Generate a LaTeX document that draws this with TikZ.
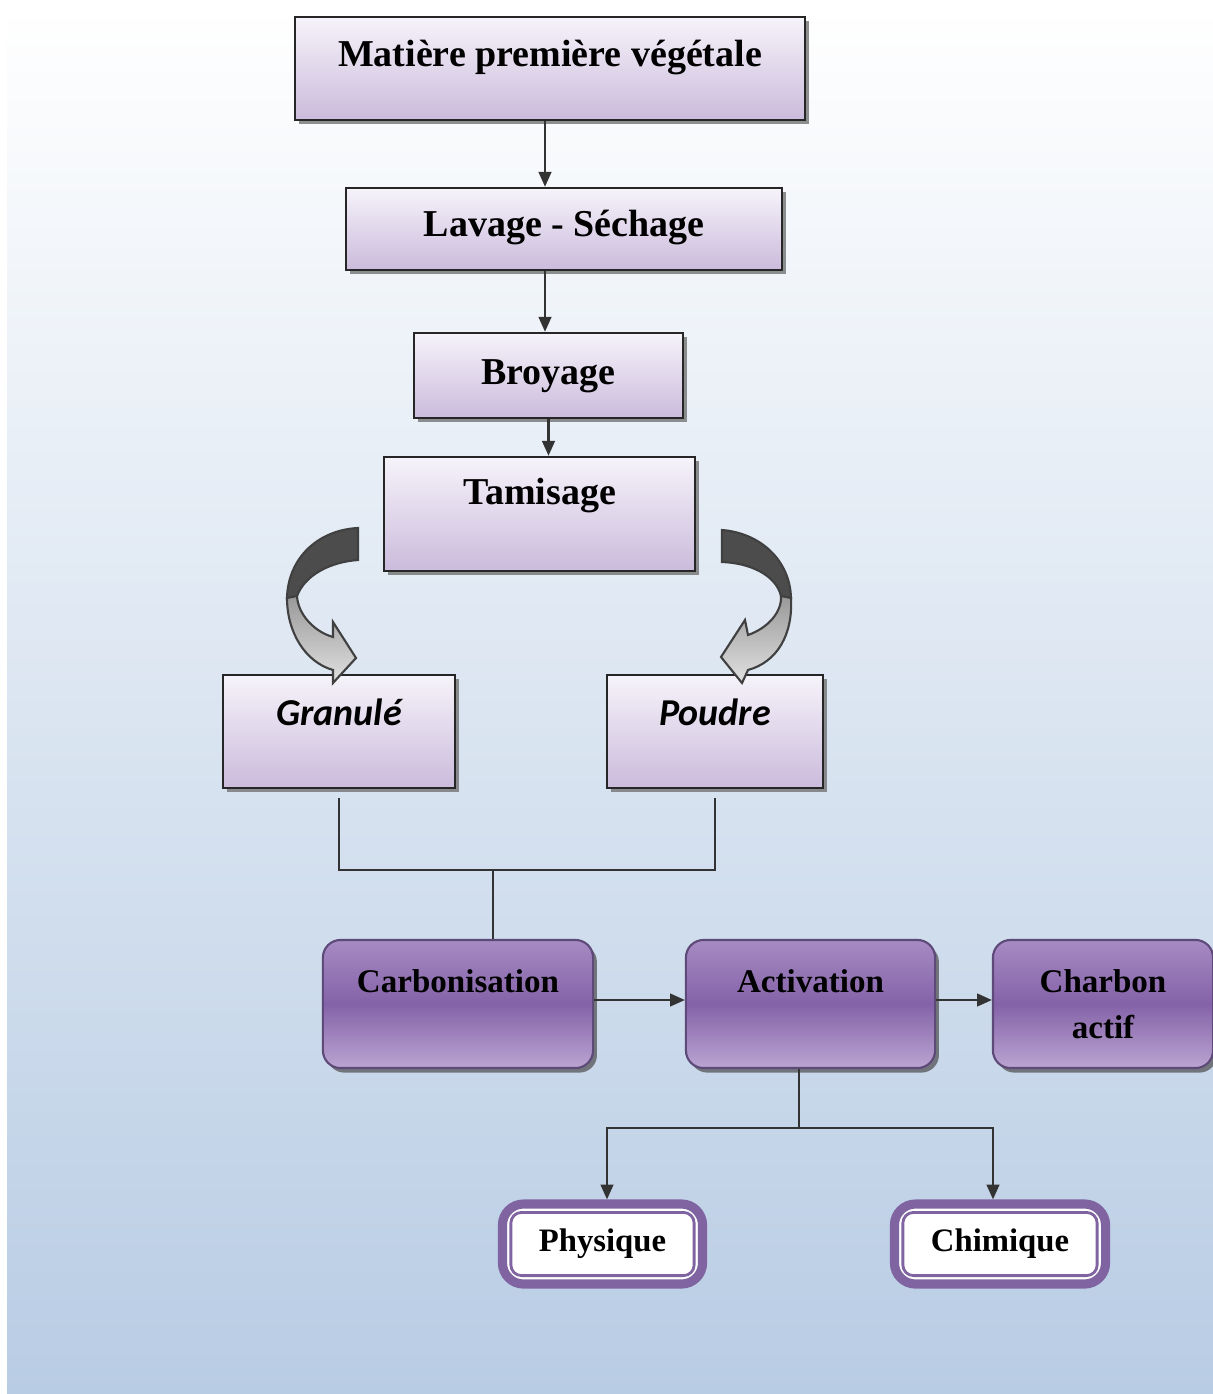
\documentclass[tikz,border=0pt]{standalone}
\usepackage{fontspec}
\setmainfont{Liberation Serif}
\newfontfamily\calib{Carlito}
\usetikzlibrary{arrows.meta,shadows}
\definecolor{bgblue}{HTML}{B8CCE4}
\definecolor{lilac}{HTML}{CBBBDC}
\definecolor{lilacpale}{HTML}{F6F3FA}
\definecolor{mauve}{HTML}{8462A8}
\definecolor{mauvetop}{HTML}{A78BC3}
\definecolor{mauvebot}{HTML}{BBA5D2}
\definecolor{mauvedark}{HTML}{5E4A78}
\definecolor{ring}{HTML}{8064A2}
\tikzset{
  boxh/.style 2 args={text height=#1, text depth=#2},
  stepbox/.style={draw=black!85, line width=0.7pt, top color=lilacpale, bottom color=lilac,
    inner sep=0pt, font=\bfseries\fontsize{10.8}{13}\selectfont,
    drop shadow={shadow xshift=1.1pt, shadow yshift=-1.1pt, fill=black!55, opacity=.8}},
  formbox/.style={stepbox, font=\calib\bfseries\itshape\fontsize{10.8}{13}\selectfont},
  procbox/.style={draw=mauvedark, line width=0.6pt, rounded corners=5pt, top color=mauvetop,
    bottom color=mauvebot, middle color=mauve, inner sep=0pt, align=center,
    font=\bfseries\fontsize{9.4}{13}\selectfont,
    drop shadow={shadow xshift=1.1pt, shadow yshift=-1.3pt, fill=black!70, opacity=.7}},
  kindbox/.style={draw=ring, line width=2.6pt, rounded corners=6pt, fill=white,
    minimum height=0.8cm, font=\bfseries\fontsize{9.3}{11}\selectfont},
  innerring/.style={draw=ring, line width=0.8pt, rounded corners=3pt},
  link/.style={draw=black!80, line width=0.6pt},
  arr/.style={link, -{Triangle[length=4.2pt, width=3.6pt]}},
  ribbon/.style={draw=black!75, line width=0.6pt}
}
\begin{document}
\begin{tikzpicture}[x=0.01cm, y=-0.01cm]
  \useasboundingbox (0,0) rectangle (1213,1394);
  % background
  \fill[white] (0,0) rectangle (1213,1394);
  \shade[top color=white, bottom color=bgblue] (7,4) rectangle (1213,1394);
  % preparation steps
  \node[stepbox, minimum width=5.1cm, boxh={0.5cm}{0.53cm}] (mat) at (550,68.5) {Matière première végétale};
  \node[stepbox, minimum width=4.36cm, boxh={0.48cm}{0.34cm}] (lav) at (564,229) {Lavage - Séchage};
  \node[stepbox, minimum width=2.69cm, boxh={0.51cm}{0.34cm}] (broy) at (548.5,375.5) {Broyage};
  \node[stepbox, minimum width=3.11cm, boxh={0.48cm}{0.66cm}] (tam) at (539.5,514) {Tamisage};
  % forms
  \node[formbox, minimum width=2.32cm, boxh={0.5cm}{0.63cm}] (gran) at (339,731.5) {Granulé};
  \node[formbox, minimum width=2.16cm, boxh={0.5cm}{0.63cm}] (poud) at (715,731.5) {Poudre};
  % treatment
  \node[procbox, minimum width=2.7cm, boxh={0.52cm}{0.76cm}] (carb) at (458,1004) {Carbonisation};
  \node[procbox, minimum width=2.49cm, boxh={0.52cm}{0.76cm}] (act) at (810.5,1004) {Activation};
  \node[procbox, minimum width=2.2cm, minimum height=1.28cm] (charb) at (1103,1004) {Charbon\\actif};
  % activation modes
  \node[kindbox, minimum width=2.0cm] (phys) at (602.5,1244) {Physique};
  \node[kindbox, minimum width=2.11cm] (chim) at (1000,1244) {Chimique};
  \draw[innerring] ([xshift=0.13cm, yshift=-0.13cm]phys.north west) rectangle ([xshift=-0.13cm, yshift=0.13cm]phys.south east);
  \draw[innerring] ([xshift=0.13cm, yshift=-0.13cm]chim.north west) rectangle ([xshift=-0.13cm, yshift=0.13cm]chim.south east);
  % curved arrows (left)
  \draw[ribbon, fill=black!70]
    (358,528) .. controls (318,530) and (288,558) .. (287,598) -- (297,596)
    .. controls (305,575) and (330,562) .. (358,560) -- cycle;
  \draw[ribbon, top color=black!40, bottom color=black!12]
    (287,598) .. controls (287,632) and (305,662) .. (333,670) -- (333,683) -- (356,658)
    -- (333,622) -- (333,637) .. controls (315,632) and (298,615) .. (297,596) -- cycle;
  % curved arrows (right)
  \draw[ribbon, fill=black!70]
    (722,530) .. controls (760,533) and (790,560) .. (791,598) -- (781,596)
    .. controls (776,575) and (750,563) .. (722,562) -- cycle;
  \draw[ribbon, top color=black!40, bottom color=black!12]
    (791,598) .. controls (793,635) and (777,662) .. (748,670) -- (742,683) -- (721,657)
    -- (745,620) -- (748,635) .. controls (768,628) and (782,612) .. (781,596) -- cycle;
  % links
  \coordinate (spine) at (545,0);
  \coordinate (junc) at (493,870);
  \coordinate (split) at (799,1128);
  \draw[arr] (mat.south -| spine) -- (lav.north -| spine);
  \draw[arr] (lav.south -| spine) -- (broy.north -| spine);
  \draw[arr] (broy.south) -- (tam.north -| broy.south);
  \draw[link] ([yshift=-0.09cm]gran.south) |- (junc) -| ([yshift=-0.09cm]poud.south);
  \draw[link] (junc) -- (junc |- carb.north);
  \draw[arr] ([yshift=0.04cm]carb.east) -- ([yshift=0.04cm]act.west);
  \draw[arr] ([yshift=0.04cm]act.east) -- ([yshift=0.04cm]charb.west);
  \draw[link] (act.south -| split) -- (split);
  \draw[arr] (split) -| ([xshift=0.045cm]phys.north);
  \draw[arr] (split) -| ([xshift=-0.07cm]chim.north);
\end{tikzpicture}
\end{document}
